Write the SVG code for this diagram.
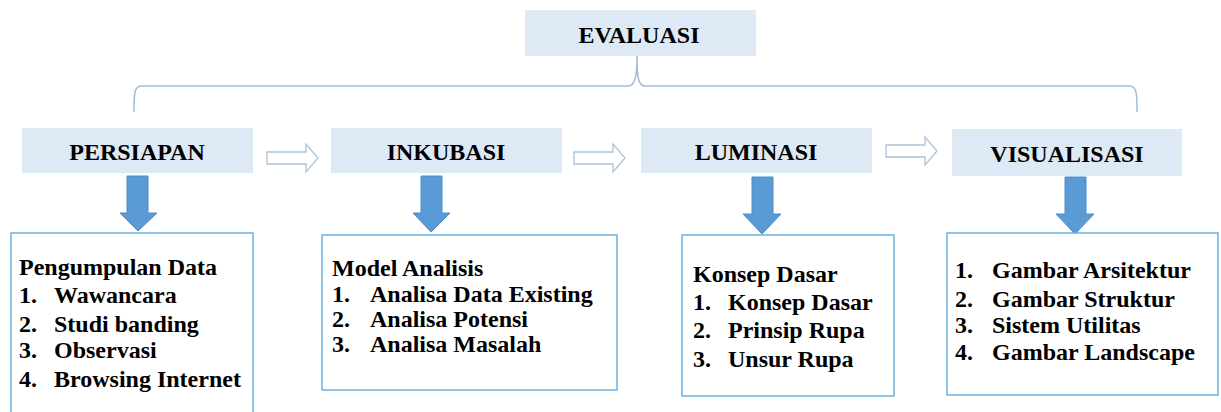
<svg xmlns="http://www.w3.org/2000/svg" width="1221" height="412" viewBox="0 0 1221 412">
<style>
.hdr{fill:#dde9f5}
.box{fill:#ffffff;stroke:#69afe0;stroke-width:1.5}
.t{font-family:"Liberation Serif","Times New Roman",serif;font-weight:bold;fill:#000}
.h{font-size:24px;text-anchor:middle}
.b{font-size:24px}
.hollow{fill:#ffffff;stroke:#a9c4de;stroke-width:1.3}
.down{fill:#5b9bd5;stroke:#4f8cc6;stroke-width:1}
.brace{fill:none;stroke:#a3bcd6;stroke-width:1.5}
</style>
<rect width="1221" height="412" fill="#ffffff"/>
<g id="connectors">
<path class="brace" d="M134,112 C134,96 134,86 141,86 L628,86 C634,86 637,80 637,56 C637,80 639,86 645,86 L1130,86 C1137,86 1137,96 1137,112"/>
<path class="hollow" d="M267,152 L306,152 L306,144 L318,158 L306,172 L306,164 L267,164 Z"/>
<path class="hollow" d="M574,152 L613,152 L613,144 L625,158 L613,172 L613,164 L574,164 Z"/>
<path class="hollow" d="M886,145 L925,145 L925,137 L937,151 L925,165 L925,157 L886,157 Z"/>
<path class="down" d="M127,176 L148,176 L148,213 L157,213 L138,231 L120,213 L127,213 Z"/>
<path class="down" d="M421,176 L442,176 L442,213 L450,213 L431,232 L413,213 L421,213 Z"/>
<path class="down" d="M752,177 L773,177 L773,214 L781,214 L762,234 L743,214 L752,214 Z"/>
<path class="down" d="M1065,177 L1086,177 L1086,214 L1094,214 L1075,234 L1056,214 L1065,214 Z"/>
</g>
<g id="evaluasi">
<rect class="hdr" x="525" y="10" width="231" height="46"/>
<text class="t h" x="639" y="43">EVALUASI</text>
</g>
<g id="persiapan">
<rect class="hdr" x="22" y="128" width="231" height="45"/>
<text class="t h" x="137" y="160">PERSIAPAN</text>
</g>
<g id="inkubasi">
<rect class="hdr" x="331" y="128" width="231" height="45"/>
<text class="t h" x="446" y="160">INKUBASI</text>
</g>
<g id="luminasi">
<rect class="hdr" x="641" y="128" width="231" height="45"/>
<text class="t h" x="756" y="160">LUMINASI</text>
</g>
<g id="visualisasi">
<rect class="hdr" x="952" y="129" width="230" height="47"/>
<text class="t h" x="1067" y="162">VISUALISASI</text>
</g>
<g id="box-persiapan">
<rect class="box" x="11" y="233" width="242" height="190"/>
<text class="t b" x="19" y="275">Pengumpulan Data</text>
<text class="t b" x="19" y="303">1.</text><text class="t b" x="54" y="303">Wawancara</text>
<text class="t b" x="19" y="332">2.</text><text class="t b" x="54" y="332">Studi banding</text>
<text class="t b" x="19" y="358">3.</text><text class="t b" x="54" y="358">Observasi</text>
<text class="t b" x="19" y="387">4.</text><text class="t b" x="54" y="387">Browsing Internet</text>
</g>
<g id="box-inkubasi">
<rect class="box" x="322" y="235" width="295" height="155"/>
<text class="t b" x="332" y="276">Model Analisis</text>
<text class="t b" x="332" y="302">1.</text><text class="t b" x="370" y="302">Analisa Data Existing</text>
<text class="t b" x="332" y="327">2.</text><text class="t b" x="370" y="327">Analisa Potensi</text>
<text class="t b" x="332" y="352">3.</text><text class="t b" x="370" y="352">Analisa Masalah</text>
</g>
<g id="box-luminasi">
<rect class="box" x="682" y="235" width="212" height="161"/>
<text class="t b" x="693" y="282">Konsep Dasar</text>
<text class="t b" x="693" y="310">1.</text><text class="t b" x="728" y="310">Konsep Dasar</text>
<text class="t b" x="693" y="338">2.</text><text class="t b" x="728" y="338">Prinsip Rupa</text>
<text class="t b" x="693" y="367">3.</text><text class="t b" x="728" y="367">Unsur Rupa</text>
</g>
<g id="box-visualisasi">
<rect class="box" x="947" y="233" width="271" height="162"/>
<text class="t b" x="955" y="278">1.</text><text class="t b" x="992" y="278">Gambar Arsitektur</text>
<text class="t b" x="955" y="307">2.</text><text class="t b" x="992" y="307">Gambar Struktur</text>
<text class="t b" x="955" y="333">3.</text><text class="t b" x="992" y="333">Sistem Utilitas</text>
<text class="t b" x="955" y="360">4.</text><text class="t b" x="992" y="360">Gambar Landscape</text>
</g>
</svg>
